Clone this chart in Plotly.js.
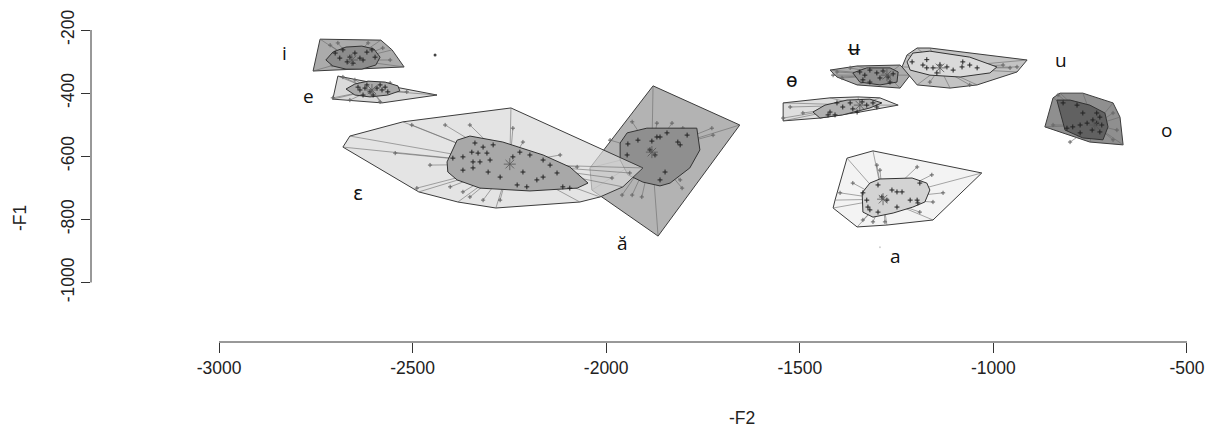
<!DOCTYPE html>
<html>
<head>
<meta charset="utf-8">
<script src="https://cdn.plot.ly/plotly-3.0.1.min.js"></script>
<style>html,body{margin:0;padding:0;background:#fff;}#chart{width:1212px;height:428px;}</style>
</head>
<body>
<div id="chart"></div>
<script>
// ---- axis ticks ----
const xTicks = [-3000, -2500, -2000, -1500, -1000, -500];
const xTickLabels = ['-3000', '-2500', '-2000', '-1500', '-1000', '-500'];
const yTicks = [-1000, -800, -600, -400, -200];
const yTickLabels = ['-1000', '-800', '-600', '-400', '-200'];

// ---- i ----
const i_hullF2 = [-2739, -2582, -2553, -2522, -2757];
const i_hullF1 = [-229, -232, -263, -317, -330];
const i_bagF2 = [-2724, -2706, -2672, -2631, -2600, -2584, -2595, -2631, -2672, -2706];
const i_bagF1 = [-295, -270, -254, -251, -260, -286, -311, -324, -324, -314];
const i_center = [-2657, -295];
const i_ptF2 = [-2700, -2680, -2662, -2649, -2636, -2618, -2605, -2669, -2654, -2628, -2688, -2597];
const i_ptF1 = [-273, -263, -286, -273, -289, -270, -263, -301, -305, -295, -289, -286];
const i_loopF2 = [-2713, -2693, -2615, -2577, -2558, -2708, -2657];
const i_loopF1 = [-248, -241, -241, -257, -295, -311, -320];

// ---- e ----
const e_hullF2 = [-2693, -2437, -2579, -2706];
const e_hullF1 = [-346, -406, -431, -419];
const e_bagF2 = [-2672, -2649, -2615, -2571, -2538, -2533, -2564, -2610, -2649];
const e_bagF1 = [-387, -371, -362, -365, -377, -393, -406, -412, -406];
const e_center = [-2605, -390];
const e_ptF2 = [-2636, -2623, -2610, -2592, -2579, -2571, -2628, -2602, -2564, -2641, -2618, -2584];
const e_ptF1 = [-390, -384, -396, -384, -390, -381, -406, -406, -396, -381, -374, -374];
const e_loopF2 = [-2680, -2584, -2706, -2662, -2558, -2649, -2515];
const e_loopF1 = [-349, -428, -415, -422, -368, -358, -396];

// ---- ε ----
const eps_hullF2 = [-2680, -2662, -2525, -2246, -1905, -1957, -2016, -2068, -2285, -2383, -2484];
const eps_hullF1 = [-571, -536, -491, -447, -637, -697, -729, -745, -764, -745, -713];
const eps_bagF2 = [-2411, -2385, -2352, -2267, -2163, -2094, -2047, -2075, -2197, -2326, -2385, -2409];
const eps_bagF1 = [-618, -549, -536, -555, -596, -634, -685, -701, -710, -701, -675, -650];
const eps_center = [-2249, -625];
const eps_ptF2 = [-2339, -2318, -2292, -2347, -2331, -2308, -2370, -2344, -2326, -2300, -2370, -2344, -2305, -2223,
  -2197, -2163, -2145, -2127, -2163, -2179, -2205, -2230, -2112, -2094, -2274, -2215, -2396, -2241];
const eps_ptF1 = [-558, -571, -564, -587, -590, -590, -602, -618, -618, -612, -644, -637, -650, -587,
  -596, -612, -628, -653, -666, -675, -697, -691, -697, -701, -666, -650, -606, -602];
const eps_loopF2 = [-2545, -2455, -2416, -2352, -2241, -2215, -2502, -2119, -2075, -2352, -2318, -2274, -2370, -2403, -2489, -1985, -1939];
const eps_loopF1 = [-590, -628, -501, -501, -511, -555, -501, -596, -634, -729, -739, -739, -713, -697, -701, -669, -653];

// ---- ă ----
const abr_hullF2 = [-1879, -1655, -1866, -2037, -2042];
const abr_hullF1 = [-377, -501, -853, -707, -637];
const abr_bagF2 = [-1964, -1946, -1895, -1766, -1758, -1784, -1835, -1861, -1905, -1944, -1964];
const abr_bagF1 = [-558, -526, -511, -511, -580, -637, -685, -694, -682, -659, -612];
const abr_center = [-1882, -587];
const abr_ptF2 = [-1944, -1918, -1882, -1869, -1861, -1843, -1815, -1809, -1791, -1946, -1848, -1861, -1874, -1887];
const abr_ptF1 = [-561, -549, -552, -539, -539, -526, -555, -564, -533, -596, -650, -675, -596, -580];
const abr_loopF2 = [-1933, -1990, -1869, -1830, -1802, -1727, -1724, -1809, -1804, -1908, -1933, -1959];
const abr_loopF1 = [-491, -549, -495, -495, -511, -511, -533, -675, -701, -729, -723, -723];

// ---- ɵ ----
const bo_hullF2 = [-1543, -1422, -1350, -1293, -1246, -1345, -1448, -1543];
const bo_hullF1 = [-431, -415, -412, -415, -438, -460, -479, -488];
const bo_bagF2 = [-1466, -1435, -1378, -1319, -1288, -1319, -1389, -1448];
const bo_bagF1 = [-460, -438, -422, -419, -431, -447, -469, -479];
const bo_center = [-1345, -438];
const bo_ptF2 = [-1422, -1404, -1389, -1370, -1363, -1339, -1327, -1311, -1409, -1427, -1352, -1301];
const bo_ptF1 = [-460, -431, -444, -431, -450, -428, -438, -431, -469, -469, -460, -444];
const bo_loopF2 = [-1525, -1492, -1543];
const bo_loopF1 = [-444, -463, -479];

// ---- ʉ ----
const bu_hullF2 = [-1422, -1352, -1241, -1215, -1241, -1352, -1404];
const bu_hullF1 = [-327, -314, -311, -343, -384, -374, -349];
const bu_bagF2 = [-1363, -1327, -1267, -1246, -1249, -1293, -1345];
const bu_bagF1 = [-336, -320, -320, -333, -365, -374, -365];
const bu_center = [-1275, -343];
const bu_ptF2 = [-1345, -1332, -1319, -1301, -1285, -1272, -1259, -1337, -1319, -1267, -1293];
const bu_ptF1 = [-333, -343, -327, -336, -330, -349, -339, -358, -365, -365, -352];
const bu_loopF2 = [-1404, -1414, -1391, -1370];
const bu_loopF1 = [-333, -343, -352, -320];

// ---- u ----
const u_hullF2 = [-1236, -1223, -1197, -1164, -913, -939, -1042, -1112, -1197];
const u_hullF1 = [-317, -279, -257, -257, -295, -333, -374, -384, -374];
const u_bagF2 = [-1223, -1208, -1164, -1061, -991, -1009, -1086, -1164, -1215];
const u_bagF1 = [-301, -273, -267, -286, -317, -336, -349, -343, -327];
const u_center = [-1138, -320];
const u_ptF2 = [-1210, -1182, -1172, -1156, -1138, -1120, -1104, -1081, -1061, -1079, -1042, -1172, -1146];
const u_ptF1 = [-301, -311, -320, -320, -311, -317, -327, -317, -311, -301, -320, -294, -336];
const u_loopF2 = [-975, -957, -939, -1061, -1164];
const u_loopF1 = [-311, -320, -317, -374, -365];

// ---- o ----
const o_hullF2 = [-846, -828, -769, -691, -673, -665, -751, -867];
const o_hullF1 = [-415, -400, -400, -431, -476, -564, -555, -507];
const o_bagF2 = [-836, -802, -751, -712, -704, -717, -769, -815];
const o_bagF1 = [-422, -422, -438, -463, -507, -548, -542, -517];
const o_center = [-738, -501];
const o_ptF2 = [-820, -784, -769, -733, -725, -743, -758, -776, -795, -810, -733, -720, -745, -776, -725];
const o_ptF1 = [-431, -438, -463, -463, -476, -485, -495, -501, -507, -511, -495, -501, -517, -526, -523];
const o_loopF2 = [-691, -681, -691, -802, -846, -833];
const o_loopF1 = [-463, -517, -548, -555, -501, -406];

// ---- a ----
const a_hullF2 = [-1378, -1311, -1030, -1156, -1275, -1352, -1414, -1409];
const a_hullF1 = [-606, -583, -653, -802, -818, -824, -764, -739];
const a_bagF2 = [-1339, -1319, -1293, -1210, -1172, -1164, -1177, -1208, -1259, -1311, -1337];
const a_bagF1 = [-716, -685, -672, -669, -685, -707, -745, -761, -780, -793, -777];
const a_center = [-1285, -736];
const a_ptF2 = [-1337, -1327, -1324, -1319, -1298, -1262, -1249, -1236, -1215, -1197, -1195, -1190, -1298, -1249, -1288, -1275];
const a_ptF1 = [-716, -739, -761, -770, -691, -707, -713, -713, -739, -739, -748, -685, -777, -761, -729, -739];
const a_loopF2 = [-1301, -1293, -1197, -1159, -1130, -1156, -1396, -1363, -1337, -1311, -1280, -1190];
const a_loopF1 = [-628, -644, -634, -659, -716, -745, -716, -685, -802, -808, -808, -777];

// ---- outliers ----
const outF2 = [-2442];
const outF1 = [-279];
const faintF2 = [-1293];
const faintF1 = [-888];

// ---- vowel labels ----
const labelText = ['i', 'e', 'ɛ', 'ă', 'a', 'ɵ', 'ʉ', 'u', 'o'];
const labelF2 = [-2832, -2768, -2641, -1957, -1252, -1520, -1358, -826, -554];
const labelF1 = [-273, -409, -716, -875, -916, -358, -257, -295, -517];

// styles (fills per vowel)
const groups = [
  {hx:i_hullF2, hy:i_hullF1, bx:i_bagF2, by:i_bagF1, c:i_center, px:i_ptF2, py:i_ptF1, lx:i_loopF2, ly:i_loopF1, hull:'#ababab', bag:'#8c8c8c'},
  {hx:e_hullF2, hy:e_hullF1, bx:e_bagF2, by:e_bagF1, c:e_center, px:e_ptF2, py:e_ptF1, lx:e_loopF2, ly:e_loopF1, hull:'#dadada', bag:'#a9a9a9'},
  {hx:abr_hullF2, hy:abr_hullF1, bx:abr_bagF2, by:abr_bagF1, c:abr_center, px:abr_ptF2, py:abr_ptF1, lx:abr_loopF2, ly:abr_loopF1, hull:'#b3b3b3', bag:'#8f8f8f'},
  {hx:eps_hullF2, hy:eps_hullF1, bx:eps_bagF2, by:eps_bagF1, c:eps_center, px:eps_ptF2, py:eps_ptF1, lx:eps_loopF2, ly:eps_loopF1, hull:'rgba(216,216,216,0.7)', bag:'#a8a8a8'},
  {hx:bo_hullF2, hy:bo_hullF1, bx:bo_bagF2, by:bo_bagF1, c:bo_center, px:bo_ptF2, py:bo_ptF1, lx:bo_loopF2, ly:bo_loopF1, hull:'#dedede', bag:'#b0b0b0'},
  {hx:bu_hullF2, hy:bu_hullF1, bx:bu_bagF2, by:bu_bagF1, c:bu_center, px:bu_ptF2, py:bu_ptF1, lx:bu_loopF2, ly:bu_loopF1, hull:'#acacac', bag:'#8e8e8e'},
  {hx:u_hullF2, hy:u_hullF1, bx:u_bagF2, by:u_bagF1, c:u_center, px:u_ptF2, py:u_ptF1, lx:u_loopF2, ly:u_loopF1, hull:'#c3c3c3', bag:'#dadada'},
  {hx:o_hullF2, hy:o_hullF1, bx:o_bagF2, by:o_bagF1, c:o_center, px:o_ptF2, py:o_ptF1, lx:o_loopF2, ly:o_loopF1, hull:'#8f8f8f', bag:'#616161'},
  {hx:a_hullF2, hy:a_hullF1, bx:a_bagF2, by:a_bagF1, c:a_center, px:a_ptF2, py:a_ptF1, lx:a_loopF2, ly:a_loopF1, hull:'#f3f3f3', bag:'#d3d3d3'}
];

const traces = [];
function closed(a) { return a.concat([a[0]]); }
groups.forEach(g => {
  traces.push({type:'scatter', mode:'lines', x:closed(g.hx), y:closed(g.hy), fill:'toself', fillcolor:g.hull,
    line:{color:'#3c3c3c', width:1}, hoverinfo:'skip'});
  const wx = [], wy = [];
  const ex = g.lx.concat(g.hx), ey = g.ly.concat(g.hy);
  for (let k = 0; k < ex.length; k++) { wx.push(g.c[0], ex[k], null); wy.push(g.c[1], ey[k], null); }
  traces.push({type:'scatter', mode:'lines', x:wx, y:wy, line:{color:'rgba(100,100,100,0.7)', width:0.8}, hoverinfo:'skip'});
  traces.push({type:'scatter', mode:'markers', x:g.lx, y:g.ly,
    marker:{symbol:'cross-thin', size:3, line:{width:1, color:'#666'}}, hoverinfo:'skip'});
  traces.push({type:'scatter', mode:'lines', x:closed(g.bx), y:closed(g.by), fill:'toself', fillcolor:g.bag,
    line:{color:'#333', width:1}, hoverinfo:'skip'});
  traces.push({type:'scatter', mode:'markers', x:g.px, y:g.py,
    marker:{symbol:'cross-thin', size:3.5, line:{width:1, color:'#222'}}, hoverinfo:'skip'});
  traces.push({type:'scatter', mode:'markers', x:[g.c[0]], y:[g.c[1]],
    marker:{symbol:'asterisk', size:10, line:{width:0.8, color:'#555'}}, hoverinfo:'skip'});
});
traces.push({type:'scatter', mode:'markers', x:outF2, y:outF1, marker:{size:3, color:'#444'}, hoverinfo:'skip'});
traces.push({type:'scatter', mode:'markers', x:faintF2, y:faintF1, marker:{size:2, color:'#d0d0d0'}, hoverinfo:'skip'});

const annotations = labelText.map((t, k) => ({x:labelF2[k], y:labelF1[k], xref:'x', yref:'y', text:t, showarrow:false,
  xanchor:'center', yanchor:'middle', font:{family:'Open Sans, DejaVu Sans', size:19, color:'#111'}}));
annotations.push({xref:'paper', yref:'paper', x:0.587, y:-0.229, text:'-F2', showarrow:false, xanchor:'center', yanchor:'middle',
  font:{family:'Liberation Sans, Arial', size:17.5, color:'#222'}});
annotations.push({xref:'paper', yref:'paper', x:-0.064, y:0.3735, text:'-F1', showarrow:false, textangle:-90, xanchor:'center', yanchor:'middle',
  font:{family:'Liberation Sans, Arial', size:17.5, color:'#222'}});

const layout = {
  width:1212, height:428,
  margin:{l:91, r:12, t:10, b:86},
  paper_bgcolor:'#fff', plot_bgcolor:'#fff',
  showlegend:false, hovermode:false,
  xaxis:{range:[-3330.6, -466.4], tickvals:xTicks, ticktext:xTickLabels, ticks:'outside', ticklen:10, tickwidth:1, tickcolor:'#333',
    showgrid:false, zeroline:false, showline:false, tickfont:{family:'Liberation Sans, Arial', size:17.5, color:'#222'}},
  yaxis:{range:[-1188.6, -136.6], tickvals:yTicks, ticktext:yTickLabels, ticks:'outside', ticklen:9, tickwidth:1, tickcolor:'#333',
    tickangle:-90, showgrid:false, zeroline:false, showline:false, tickfont:{family:'Liberation Sans, Arial', size:17.5, color:'#222'}},
  shapes:[
    {type:'line', xref:'x', yref:'paper', x0:xTicks[0], x1:xTicks[xTicks.length-1], y0:0, y1:0, line:{color:'#333', width:1}},
    {type:'line', xref:'paper', yref:'y', x0:0, x1:0, y0:yTicks[0], y1:yTicks[yTicks.length-1], line:{color:'#333', width:1}}
  ],
  annotations:annotations
};
Plotly.newPlot('chart', traces, layout, {staticPlot:true, displayModeBar:false});
</script>
</body>
</html>
